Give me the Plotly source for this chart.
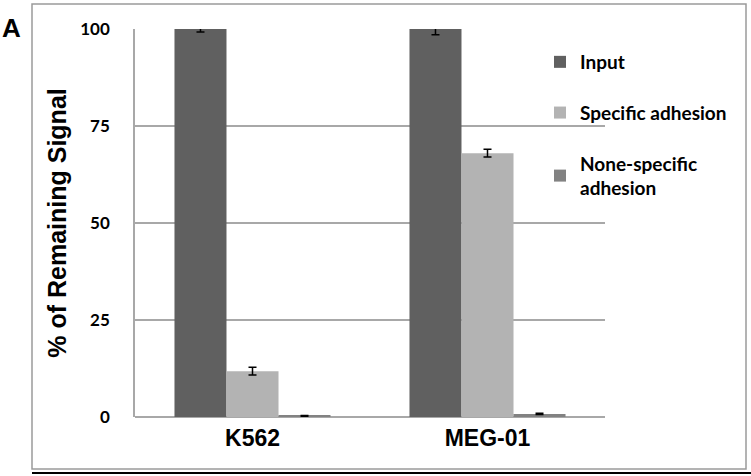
import plotly.graph_objects as go

categories = ["K562", "MEG-01"]
series_names = ["Input", "Specific adhesion", "None-specific<br>adhesion"]
input_vals = [100, 100]
input_err = [0.8, 1.5]
specific_vals = [11.8, 68.0]
specific_err = [1.0, 1.0]
nonspecific_vals = [0.3, 0.8]
nonspecific_err = [0.1, 0.15]
y_ticks = [0, 25, 50, 75, 100]

colors = ["#606060", "#b3b3b3", "#828282"]

# pixel geometry helpers
L, R, T, B = 135, 605, 29, 417
W, H = 751, 476
def px(x):
    return (x - L) / (R - L)
def py(y):
    return (B - y) / (B - T)

fig = go.Figure()
for i, (name, vals, errs) in enumerate(zip(series_names,
                                             [input_vals, specific_vals, nonspecific_vals],
                                             [input_err, specific_err, nonspecific_err])):
    fig.add_trace(go.Bar(
        x=categories, y=vals, name=f"<b>{name}</b>",
        marker=dict(color=colors[i], line=dict(width=0)),
        error_y=dict(type="data", array=errs, visible=True, color="black",
                     thickness=1.5, width=4),
        legendgroup=f"g{i}",
    ))

fig.update_layout(
    width=W, height=H,
    margin=dict(l=L, r=W - R, t=T, b=H - B, autoexpand=False),
    paper_bgcolor="white", plot_bgcolor="white",
    barmode="group", bargap=0.336, bargroupgap=0,
    showlegend=True,
    legend=dict(x=px(540), y=py(43), xanchor="left", yanchor="top",
                font=dict(family="Lato", size=19, color="black"),
                tracegroupgap=23, itemwidth=30, bgcolor="rgba(0,0,0,0)"),
    font=dict(family="Liberation Sans", color="black"),
)
fig.update_xaxes(
    showgrid=False, showline=False, zeroline=False, automargin=False,
    tickfont=dict(family="Liberation Sans", size=23, color="black"),
    ticks="", ticklabelstandoff=5,
    tickvals=categories, ticktext=["<b>K562</b>", "<b>MEG-01</b>"],
)
fig.update_yaxes(
    range=[0, 100], tickvals=y_ticks, ticktext=[f"<b>{v}</b>" for v in y_ticks],
    automargin=False,
    showgrid=True, gridcolor="#a8a8a8", gridwidth=1.5,
    showline=True, linecolor="#a8a8a8", linewidth=1.5,
    zeroline=True, zerolinecolor="#a8a8a8", zerolinewidth=1.5,
    ticks="", ticklabelstandoff=20,
    tickfont=dict(family="Lato", size=17, color="black"),
    title=dict(text="<b>% of Remaining Signal</b>",
               font=dict(family="Liberation Sans", size=25, color="black"),
               standoff=7),
)

# outer frame
fig.add_shape(type="rect", xref="paper", yref="paper",
              x0=px(32), x1=px(746), y0=py(469), y1=py(4),
              line=dict(color="#9a9a9a", width=1.5), layer="below")
fig.add_shape(type="line", xref="paper", yref="paper",
              x0=px(32), x1=px(751), y0=py(473), y1=py(473),
              line=dict(color="black", width=2))
fig.add_annotation(text="<b>A</b>", xref="paper", yref="paper",
                   x=px(0), y=py(11), xanchor="left", yanchor="top",
                   showarrow=False,
                   font=dict(family="Liberation Sans", size=26, color="black"))

fig.write_html("out.html", config={"displayModeBar": False},
               post_script="document.body.style.margin='0';document.body.style.padding='0';")
